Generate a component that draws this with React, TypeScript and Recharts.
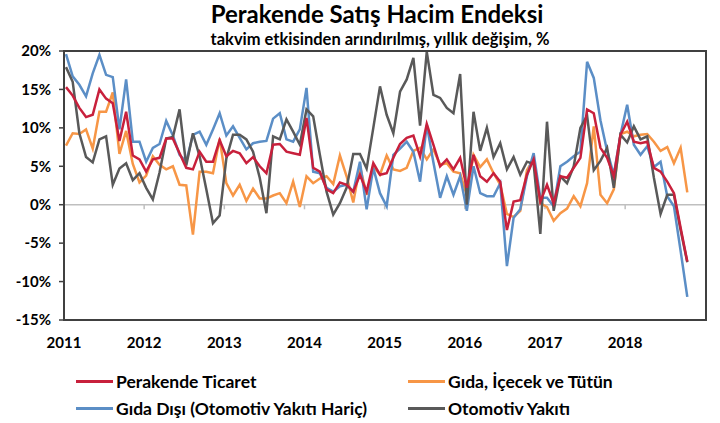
import { LineChart, Line, XAxis, YAxis, ReferenceLine } from "recharts";

// monthly, Jan 2011 .. Oct 2018
const years = ["2011", "2012", "2013", "2014", "2015", "2016", "2017", "2018"];
const yTicks = [-15, -10, -5, 0, 5, 10, 15, 20];

const retail = [
  15.3, 14.2, 12.6, 11.4, 11.7, 15.0, 13.8, 13.2, 8.3, 12.1, 6.4, 5.9,
  4.3, 5.9, 6.1, 8.6, 8.6, 6.7, 4.8, 4.6, 6.9, 5.6, 5.6, 8.4,
  6.3, 7.0, 6.7, 5.4, 6.2, 5.0, 4.1, 7.8, 7.9, 6.9, 6.7, 6.5,
  11.3, 4.8, 4.3, 2.0, 1.5, 2.9, 2.6, 1.7, 3.9, 1.7, 5.4, 3.9,
  4.1, 6.1, 7.9, 8.7, 9.0, 6.3, 10.5, 7.8, 5.0, 5.9, 4.6, 6.1,
  2.2, 6.5, 3.7, 3.0, 4.1, 3.0, -3.3, 0.4, 0.6, 3.9, 5.9, 0.4,
  2.6, 0.2, 3.7, 3.5, 4.8, 6.1, 12.4, 11.9, 7.4, 6.1, 3.7, 9.1,
  10.8, 8.2, 8.0, 8.2, 4.8, 4.3, 3.0, 1.5, -3.0, -7.4,
];

const food = [
  7.7, 9.3, 9.2, 9.8, 7.3, 12.1, 12.1, 14.6, 6.6, 9.6, 5.3, 2.9,
  3.8, 6.3, 5.2, 4.6, 5.0, 2.6, 2.5, -3.9, 4.3, 4.3, 4.1, 8.6,
  2.8, 1.2, 2.6, 0.5, 2.1, 0.8, 0.8, 1.2, 1.5, 0.2, 3.0, -0.3,
  3.7, 2.8, 3.4, 3.7, 2.7, 6.4, 3.7, 0.3, 5.0, 1.3, 5.0, 3.9,
  6.4, 4.6, 4.4, 4.8, 7.0, 7.4, 5.9, 7.2, 5.2, 5.4, 4.3, 4.1,
  1.2, 6.5, 4.9, 5.9, 4.1, 2.6, -1.2, -1.6, -0.8, 4.5, 6.0, 0.2,
  -0.3, -2.1, -1.1, -0.5, 1.1, -0.2, 2.8, 10.2, 1.3, 0.2, 2.0, 9.2,
  9.5, 8.9, 9.1, 9.2, 8.2, 7.0, 7.5, 5.4, 7.4, 1.6,
];

const nonFood = [
  19.6, 16.7, 15.6, 14.1, 17.1, 19.5, 16.9, 16.6, 9.8, 16.3, 8.2, 8.2,
  5.6, 7.4, 7.9, 10.9, 9.0, 6.5, 5.6, 9.1, 9.5, 7.8, 9.8, 11.9,
  9.0, 10.2, 8.7, 7.2, 8.0, 8.2, 8.3, 11.2, 11.9, 8.5, 8.2, 9.8,
  15.2, 4.3, 4.1, 2.2, 1.7, 2.4, 2.6, 1.7, 5.6, -0.6, 4.8, 1.5,
  -0.2, 6.5, 7.3, 8.2, 6.9, 3.0, 10.4, 5.5, 0.9, 3.7, 1.3, 3.7,
  -0.8, 5.0, 1.5, 1.1, 1.1, 2.8, -8.0, -1.7, -0.6, 3.7, 6.7, 0.9,
  0.9, -0.2, 5.0, 5.6, 6.3, 6.9, 18.6, 16.5, 11.0, 7.0, 3.9, 9.1,
  13.0, 7.8, 6.5, 7.6, 4.9, 5.6, 1.1, -0.2, -6.0, -12.0,
];

const fuel = [
  17.9, 16.0, 9.3, 6.2, 5.5, 8.5, 8.9, 2.6, 4.7, 5.4, 3.2, 4.1,
  2.2, 0.7, 4.2, 8.6, 8.8, 12.4, 5.1, 9.3, 6.3, 2.0, -2.4, -1.4,
  6.0, 9.1, 9.1, 8.5, 6.9, 3.5, -1.1, 8.9, 8.5, 11.1, 9.5, 7.8,
  12.4, 11.5, 6.5, 1.7, -1.3, 0.2, 2.2, 6.6, 6.6, 4.7, 10.0, 15.4,
  11.7, 9.3, 14.7, 16.3, 19.1, 10.3, 19.9, 14.3, 13.9, 12.6, 11.9, 17.0,
  0.0, 12.1, 7.0, 10.0, 6.2, 8.0, 4.6, 6.2, 3.9, 5.6, 5.3, -3.8,
  10.8, -0.8, 3.7, 2.8, 5.0, 10.0, 11.6, 4.5, 5.7, 7.4, 2.2, 9.1,
  8.1, 10.2, 8.5, 8.9, 3.5, -1.2, 1.3, 1.3, -3.3, -7.5,
];

const series = [
  { key: "food", name: "Gıda, İçecek ve Tütün", color: "#F79646" },
  { key: "nonFood", name: "Gıda Dışı (Otomotiv Yakıtı Hariç)", color: "#5B8EC6" },
  { key: "fuel", name: "Otomotiv Yakıtı", color: "#595959" },
  { key: "retail", name: "Perakende Ticaret", color: "#C8203C" },
];

const legendOrder = ["retail", "food", "nonFood", "fuel"];

const chartData = retail.map((v, i) => ({
  m: i,
  retail: v,
  food: food[i],
  nonFood: nonFood[i],
  fuel: fuel[i],
}));

const X_MIN = -0.3;
const X_MAX = 95.8;
const yearTicks = years.map((_, k) => k * 12 + X_MIN);

const font = "Lato, 'Open Sans', sans-serif";
const frame = { stroke: "#404040", strokeWidth: 2 };
const axisTick = { fill: "#000", fontSize: 15, fontWeight: 700, fontFamily: font };

export default function App() {
  return (
    <div style={{ position: "relative", width: 720, height: 423, background: "#fff", fontFamily: font }}>
      <style>{`body{margin:0}`}</style>
      <div
        style={{
          position: "absolute",
          left: 0,
          width: 754,
          top: 0,
          textAlign: "center",
          fontWeight: 700,
          fontSize: 24,
          lineHeight: "28px",
          color: "#000",
        }}
      >
        Perakende Satış Hacim Endeksi
      </div>
      <div
        style={{
          position: "absolute",
          left: 0,
          width: 760,
          top: 29,
          textAlign: "center",
          fontWeight: 700,
          fontSize: 16.5,
          lineHeight: "20px",
          color: "#000",
        }}
      >
        takvim etkisinden arındırılmış, yıllık değişim, %
      </div>

      <div style={{ position: "absolute", left: 0, top: 0 }}>
        <LineChart width={720} height={423} data={chartData} margin={{ top: 51, right: 14, bottom: 73, left: 0 }}>
          <XAxis
            dataKey="m"
            type="number"
            domain={[X_MIN, X_MAX]}
            ticks={yearTicks}
            tickFormatter={(v: number) => years[Math.round((v - X_MIN) / 12)]}
            axisLine={frame}
            tickLine={false}
            tickMargin={11}
            interval={0}
            height={30}
            tick={axisTick}
          />
          <XAxis
            xAxisId="top"
            dataKey="m"
            type="number"
            orientation="top"
            domain={[X_MIN, X_MAX]}
            height={0}
            tick={false}
            tickLine={false}
            axisLine={frame}
          />
          <YAxis
            type="number"
            domain={[-15, 20]}
            ticks={yTicks}
            tickFormatter={(v: number) => `${v}%`}
            width={64}
            axisLine={frame}
            tickSize={5}
            tickMargin={8}
            tickLine={{ stroke: "#404040", strokeWidth: 1.5 }}
            tick={axisTick}
          />
          <YAxis
            yAxisId="right"
            type="number"
            orientation="right"
            domain={[-15, 20]}
            width={0}
            tick={false}
            tickLine={false}
            axisLine={frame}
          />
          <ReferenceLine y={0} stroke="#BFBFBF" strokeWidth={1.5} />
          {yearTicks.slice(1).map((t) => (
            <ReferenceLine
              key={`t-${t}`}
              segment={[
                { x: t, y: 0 },
                { x: t, y: -0.6 },
              ]}
              stroke="#BFBFBF"
              strokeWidth={1.5}
            />
          ))}
          {series.map((s) => (
            <Line
              key={s.key}
              type="linear"
              dataKey={s.key}
              name={s.name}
              stroke={s.color}
              strokeWidth={2.5}
              dot={false}
              isAnimationActive={false}
            />
          ))}
        </LineChart>
      </div>

      {/* plot frame */}
      <div
        style={{
          position: "absolute",
          left: 63,
          top: 50,
          width: 644,
          height: 271,
          boxSizing: "border-box",
          border: "2px solid #404040",
          pointerEvents: "none",
        }}
      />

      <div style={{ position: "absolute", left: 0, top: 369, width: 720 }}>
        {legendOrder.map((key, idx) => {
          const s = series.find((x) => x.key === key)!;
          const col = idx % 2;
          const row = Math.floor(idx / 2);
          return (
            <div
              key={key}
              style={{
                position: "absolute",
                left: col === 0 ? 76 : 408,
                top: row * 27,
                display: "flex",
                alignItems: "center",
                height: 24,
                fontSize: 17.5,
                fontWeight: 700,
                color: "#000",
                whiteSpace: "nowrap",
              }}
            >
              <span style={{ display: "inline-block", width: 37, height: 3, background: s.color, marginRight: 3 }} />
              {s.name}
            </div>
          );
        })}
      </div>
    </div>
  );
}
